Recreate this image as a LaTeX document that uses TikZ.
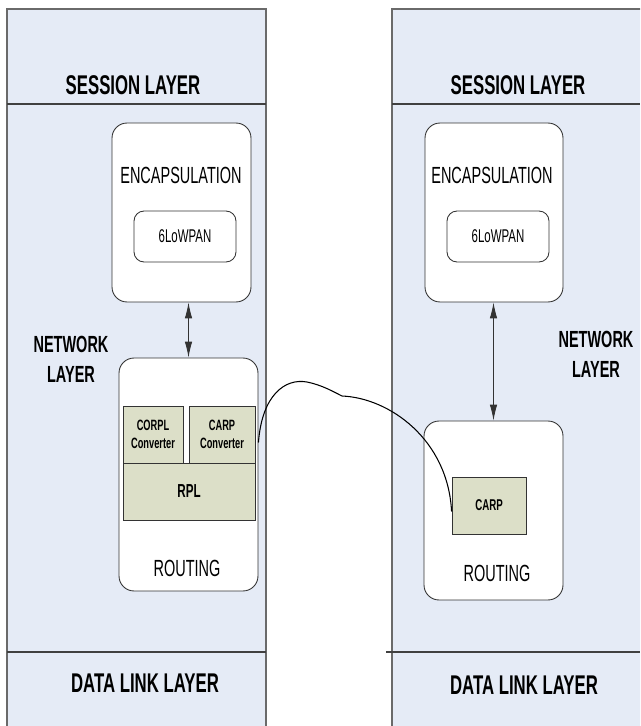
\documentclass[tikz,border=0pt]{standalone}
\usepackage{fontspec}
\setmainfont{Liberation Sans}[FakeStretch=0.62]
\usepackage{xcolor}
\usepackage{tikz}
\usetikzlibrary{arrows.meta,calc}
\definecolor{layerblue}{HTML}{E5EBF6}
\definecolor{protogreen}{HTML}{DCDFC8}
\definecolor{edgegray}{HTML}{6A6A6A}

\begin{document}
\begin{tikzpicture}[x=0.02cm, y=-0.02cm,
    layertext/.style={font=\fontsize{15.4}{17}\selectfont\bfseries},
    sidetext/.style={font=\fontsize{13.3}{17}\selectfont\bfseries, align=center},
    blocktext/.style={font=\fontsize{13.3}{15}\selectfont},
    roundbox/.style={draw=black!80, fill=white, rounded corners=0.3cm, line width=0.5pt},
    protobox/.style={draw=black!80, fill=protogreen, line width=0.5pt, align=center, inner sep=0pt}]
\useasboundingbox (0,0) rectangle (640,726);
\clip (0,0) rectangle (640,726);
% the two protocol stacks
\draw[edgegray, fill=layerblue, line width=0.6pt] (7,9) rectangle (266,740);
\draw[edgegray, fill=layerblue, line width=0.6pt] (392,9) rectangle (660,740);
\draw[black!75, line width=0.6pt] (7,104) -- (266,104) (392,104) -- (640,104);
\draw[black!75, line width=0.6pt] (7,652) -- (266,652) (386,652) -- (640,652);
\node[layertext] (sessL) at (133,85) {SESSION LAYER};
\node[layertext] (sessR) at (518,85) {SESSION LAYER};
\node[sidetext] (netL) at (71,359) {NETWORK\\LAYER};
\node[sidetext] (netR) at (596,354) {NETWORK\\LAYER};
\node[layertext] (dllL) at (145,683) {DATA LINK LAYER};
\node[layertext] (dllR) at (524,685) {DATA LINK LAYER};
% left node
\node[roundbox, minimum width=2.78cm, minimum height=3.58cm] (encL) at (181.5,212.5) {};
\node[blocktext] at (181,175) {ENCAPSULATION};
\node[roundbox, rounded corners=0.2cm, minimum width=2.04cm, minimum height=1.02cm,
      font=\fontsize{10.5}{12}\selectfont] (lowL) at (185,236.5) {6LoWPAN};
\node[roundbox, minimum width=2.78cm, minimum height=4.66cm] (routL) at (188.5,474.5) {};
\node[blocktext] at (187,568) {ROUTING};
\node[protobox, minimum width=1.2cm, minimum height=1.14cm,
      font=\fontsize{8.5}{10}\selectfont\bfseries] (corpl) at (153,434.5) {CORPL\\Converter};
\node[protobox, minimum width=1.32cm, minimum height=1.14cm,
      font=\fontsize{8.5}{10}\selectfont\bfseries] (carpconv) at (222,434.5) {CARP\\Converter};
\node[protobox, minimum width=2.64cm, minimum height=1.14cm,
      font=\fontsize{10.7}{12}\selectfont\bfseries] (rpl) at (189,491.5) {RPL};
% right node
\node[roundbox, minimum width=2.76cm, minimum height=3.58cm] (encR) at (494,212.5) {};
\node[blocktext] at (492,175) {ENCAPSULATION};
\node[roundbox, rounded corners=0.2cm, minimum width=2.04cm, minimum height=1.02cm,
      font=\fontsize{10.5}{12}\selectfont] (lowR) at (498,236.5) {6LoWPAN};
\node[roundbox, minimum width=2.78cm, minimum height=3.58cm] (routR) at (493.5,510.5) {};
\node[blocktext] at (497,573) {ROUTING};
\node[protobox, minimum width=1.48cm, minimum height=1.14cm,
      font=\fontsize{8.9}{10}\selectfont\bfseries] (carp) at (489,505.5) {CARP};
% links
\draw[{Latex[length=3.2mm,width=1.5mm]}-{Latex[length=3.2mm,width=1.5mm]}, black!80, line width=0.5pt]
    (routL.north |- encL.south) -- (routL.north);
\draw[{Latex[length=3.2mm,width=1.5mm]}-{Latex[length=3.2mm,width=1.5mm]}, black!80, line width=0.5pt]
    (routR.north |- encR.south) -- (routR.north);
\coordinate (linkA) at ($(routL.east |- carpconv.east)+(0,8)$);
\draw[line width=0.6pt] (linkA) .. controls (262,395) and (285,378) .. (307,382)
    .. controls (322,385) and (334,392) .. (342,396)
    .. controls (390,398) and (448,440) .. ($(carp.west)+(0,6)$);
\end{tikzpicture}
\end{document}
